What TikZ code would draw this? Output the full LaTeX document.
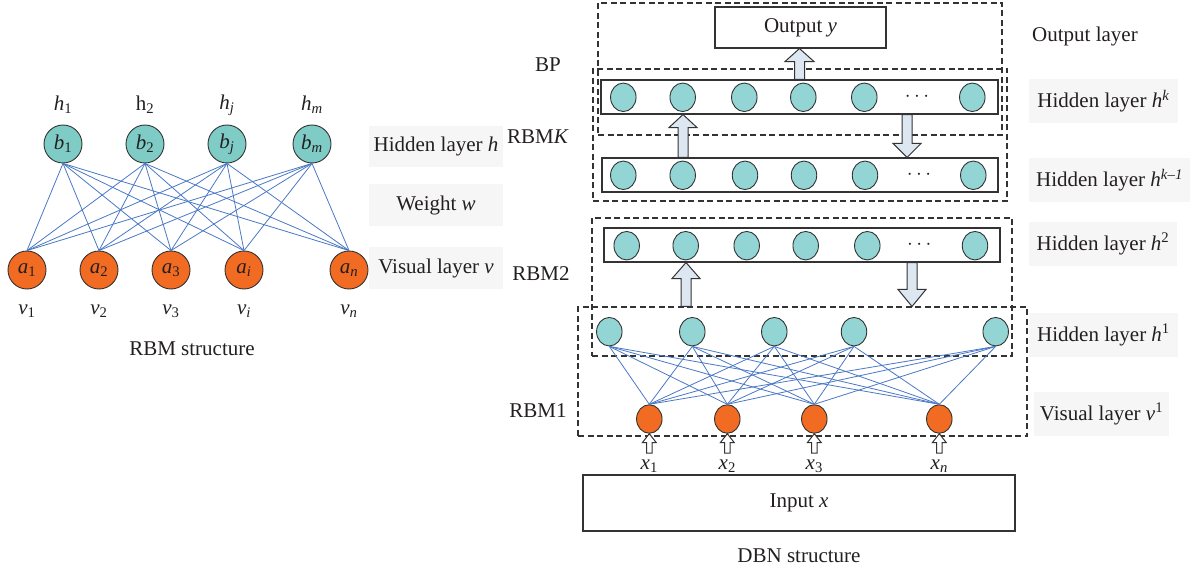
\documentclass[tikz,border=0pt]{standalone}
\usepackage{fontspec}
\setmainfont{Liberation Serif}
\usetikzlibrary{shapes.geometric,arrows.meta,calc}
\definecolor{tealL}{HTML}{7FCCC7}
\definecolor{tealR}{HTML}{93D5D5}
\definecolor{orng}{HTML}{F26B22}
\definecolor{edgec}{HTML}{333333}
\definecolor{wire}{HTML}{4A78C6}
\definecolor{lblbg}{HTML}{F6F6F6}
\definecolor{arrfill}{HTML}{DDE7F2}
\definecolor{txt}{HTML}{231F20}
% block arrow: style, from, to, head length, shaft half width, head half width
\newcommand\blkarrow[6]{%
  \draw[#1] let \p1=(#2), \p2=(#3), \n1={(\y2-\y1)/abs(\y2-\y1)} in
   (\x1-#5,\y1) -- (\x1-#5,\y2-\n1*#4) -- (\x1-#6,\y2-\n1*#4) -- (\x2,\y2)
   -- (\x1+#6,\y2-\n1*#4) -- (\x1+#5,\y2-\n1*#4) -- (\x1+#5,\y1) -- cycle;}
\newcommand\iv[2]{\textit{#1}\textsubscript{#2}}
\newcommand\isp[2]{\textit{#1}\textsuperscript{#2}}
\begin{document}
\begin{tikzpicture}[x=1pt,y=-1pt,
  every node/.style={font=\fontsize{21}{24}\selectfont, text=txt},
  hidL/.style={circle,draw=edgec,line width=0.9pt,fill=tealL,minimum size=38pt,inner sep=0pt},
  visL/.style={circle,draw=edgec,line width=0.9pt,fill=orng,minimum size=38pt,inner sep=0pt},
  hidR/.style={ellipse,draw=edgec,line width=0.9pt,fill=tealR,minimum width=25.5pt,minimum height=28.5pt,inner sep=0pt},
  visR/.style={ellipse,draw=edgec,line width=0.9pt,fill=orng,minimum width=25.5pt,minimum height=28.5pt,inner sep=0pt},
  wireL/.style={draw=wire,line width=0.8pt},
  dashbox/.style={draw=edgec,line width=1.1pt,dash pattern=on 6pt off 3.5pt,inner sep=0pt},
  rowbox/.style={draw=edgec,line width=1.1pt,inner sep=0pt},
  lbl/.style={fill=lblbg,inner sep=0pt},
  blk/.style={draw=edgec,line width=1pt,fill=arrfill,line join=miter},
  dbl/.style={draw=edgec,line width=1pt,fill=white,line join=miter},
]
\useasboundingbox (0,0) rectangle (1194,572);

% ---------------- RBM structure ----------------
\node[hidL] (b1) at (63,144) {\iv{b}{1}};
\node[hidL] (b2) at (145,144) {\iv{b}{2}};
\node[hidL] (bj) at (227,144) {\iv{b}{\textit{j}}};
\node[hidL] (bm) at (312,144) {\iv{b}{\textit{m}}};
\node[visL] (a1) at (27,270) {\iv{a}{1}};
\node[visL] (a2) at (99,270) {\iv{a}{2}};
\node[visL] (a3) at (171,270) {\iv{a}{3}};
\node[visL] (ai) at (244,270) {\iv{a}{\textit{i}}};
\node[visL] (an) at (349,270) {\iv{a}{\textit{n}}};
\foreach \h in {b1,b2,bj,bm}{
  \foreach \v in {a1,a2,a3,ai,an}{
    \draw[wireL] (\h.south) -- (\v.north);}}
\node (lh1) at (63,105) {\iv{h}{1}};
\node (lh2) at (145,105) {h\textsubscript{2}};
\node (lhj) at (227,105) {\iv{h}{\textit{j}}};
\node (lhm) at (312,105) {\iv{h}{\textit{m}}};
\node (lv1) at (27,311) {\iv{v}{1}};
\node (lv2) at (99,311) {\iv{v}{2}};
\node (lv3) at (171,311) {\iv{v}{3}};
\node (lvi) at (244,311) {\iv{v}{\textit{i}}};
\node (lvn) at (349,311) {\iv{v}{\textit{n}}};
\node[lbl,minimum width=134pt,minimum height=41pt] (lhid) at (436,146.5) {Hidden layer \textit{h}};
\node[lbl,minimum width=134pt,minimum height=42pt] (lw) at (436,205) {Weight \textit{w}};
\node[lbl,minimum width=134pt,minimum height=42pt] (lvis) at (436,268) {Visual layer \textit{v}};
\node (rbmcap) at (192,349) {RBM structure};

% ---------------- DBN structure ----------------
\node[dashbox,minimum width=404pt,minimum height=132pt] (bpbox) at (800,69) {};
\node[dashbox,minimum width=414pt,minimum height=132pt] (rbmkbox) at (800,135) {};
\node[dashbox,minimum width=420pt,minimum height=138pt] (rbm2box) at (802,287) {};
\node[dashbox,minimum width=449pt,minimum height=129pt] (rbm1box) at (802.5,371.5) {};

\node[rowbox,minimum width=171pt,minimum height=41pt] (out) at (800.5,27.5) {Output \textit{y}};
\node[rowbox,minimum width=397pt,minimum height=34pt] (hk) at (799.5,97) {};
\node[rowbox,minimum width=396pt,minimum height=34pt] (hk1) at (800,175) {};
\node[rowbox,minimum width=396pt,minimum height=34pt] (h2) at (802,245) {};
\node[rowbox,minimum width=432pt,minimum height=56pt] (inp) at (799,503) {Input \textit{x}};

% hidden layer h^k
\foreach \x [count=\i] in {623.3,682.7,744.3,803.3,864.3,972.3}{
  \node[hidR] (hk-\i) at (\x,97.3) {};}
\node (hkdots) at (917,97) {$\cdots$};
% hidden layer h^{k-1}
\foreach \x [count=\i] in {623.3,682.7,745,804,865,973.3}{
  \node[hidR] (hkm-\i) at (\x,175.3) {};}
\node (hkmdots) at (919,175) {$\cdots$};
% hidden layer h^2
\foreach \x [count=\i] in {626.7,685.7,746.7,805.7,867.3,975}{
  \node[hidR] (hb-\i) at (\x,245.7) {};}
\node (hbdots) at (919.3,245) {$\cdots$};
% hidden layer h^1
\foreach \x [count=\i] in {609.3,692.3,774.3,854,995.7}{
  \node[hidR] (ha-\i) at (\x,331.7) {};}
% visual layer v^1
\foreach \x [count=\i] in {649.3,727.3,814.3,939.3}{
  \node[visR] (va-\i) at (\x,419) {};}
\foreach \h in {1,...,5}{
  \foreach \v in {1,...,4}{
    \draw[wireL] (ha-\h.south) -- (va-\v.north);}}

% block arrows
\blkarrow{blk}{799.5,0 |- hk.north}{799.5,0 |- out.south}{13pt}{5pt}{14.5pt}
\blkarrow{blk}{683,0 |- hk1.north}{683,0 |- hk.south}{13pt}{5pt}{14pt}
\blkarrow{blk}{907,0 |- hk.south}{907,0 |- hk1.north}{14pt}{5pt}{14pt}
\blkarrow{blk}{686,0 |- rbm1box.north}{686,0 |- h2.south}{16pt}{5pt}{14pt}
\blkarrow{blk}{912,0 |- h2.south}{912,0 |- rbm1box.north}{17pt}{5pt}{14pt}

% inputs
\foreach \x [count=\i] in {649.3,727.3,814.3,939.3}{
  \coordinate (xin-\i) at (\x,453);}
\foreach \i in {1,...,4}{
  \blkarrow{dbl}{xin-\i}{va-\i.south}{9pt}{2.8pt}{7pt}}
\node (lx1) at (649.3,466) {\iv{x}{1}};
\node (lx2) at (727.3,466) {\iv{x}{2}};
\node (lx3) at (814.3,466) {\iv{x}{3}};
\node (lxn) at (939.3,466) {\iv{x}{\textit{n}}};

% left labels
\node (lbp) at (548,65) {BP};
\node (lrbmk) at (538,137) {RBM\textit{K}};
\node (lrbm2) at (541,274) {RBM2};
\node (lrbm1) at (538,411) {RBM1};

% right labels
\node (lout) at (1085,36) {Output layer};
\node[lbl,minimum width=149pt,minimum height=44pt] (lhk) at (1103.5,101) {Hidden layer \isp{h}{\textit{k}}};
\node[lbl,minimum width=161pt,minimum height=44pt] (lhkm) at (1109.5,180) {Hidden layer \isp{h}{\textit{k}–\textit{1}}};
\node[lbl,minimum width=148pt,minimum height=44pt] (lh2) at (1103,244) {Hidden layer \isp{h}{2}};
\node[lbl,minimum width=149pt,minimum height=44pt] (lh1) at (1103.5,335) {Hidden layer \isp{h}{1}};
\node[lbl,minimum width=135pt,minimum height=44pt] (lv1r) at (1101.5,414) {Visual layer \isp{v}{1}};

\node (dbncap) at (799,556) {DBN structure};
\end{tikzpicture}
\end{document}
